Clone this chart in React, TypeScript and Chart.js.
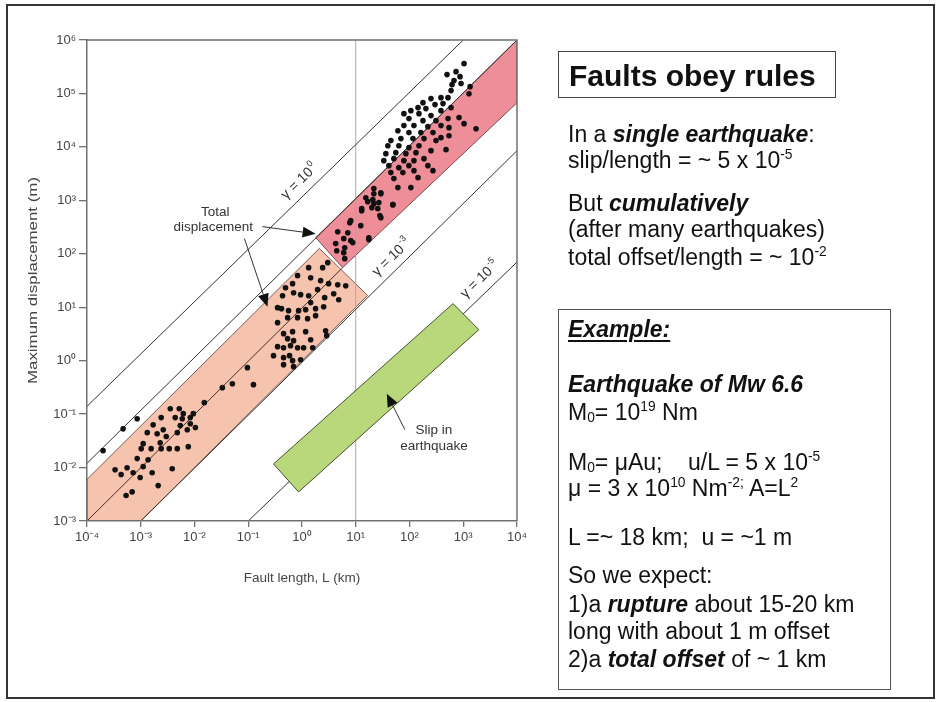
import React, { useEffect, useRef } from 'react';
import { Chart, registerables } from 'chart.js';

Chart.register(...registerables);

const FONT = '"Liberation Sans", Arial, Helvetica, sans-serif';

// ---- axis ticks ----
const lengthTicks = [1e-4, 1e-3, 1e-2, 1e-1, 1, 10, 100, 1e3, 1e4];
const lengthTickLabels = ['10⁻⁴', '10⁻³', '10⁻²', '10⁻¹', '10⁰', '10¹', '10²', '10³', '10⁴'];
const dispTicks = [1e-3, 1e-2, 1e-1, 1, 10, 100, 1e3, 1e4, 1e5, 1e6];
const dispTickLabels = ['10⁻³', '10⁻²', '10⁻¹', '10⁰', '10¹', '10²', '10³', '10⁴', '10⁵', '10⁶'];

// ---- fault data: length L (km), maximum displacement D (m) ----
const smallFaultsL = [
  3.33e-4, 4.31e-4, 5.57e-4, 7.21e-4, 5.34e-4, 6.91e-4, 8.57e-4, 9.75e-4, 1.11e-3, 1.11e-3,
  1.02e-3, 1.32e-3, 1.37e-3, 1.56e-3, 1.63e-3, 1.7e-3, 2.11e-3, 2.02e-3, 2.3e-3, 2.4e-3,
  2.62e-3, 2.4e-3, 2.98e-3, 3.39e-3, 3.85e-3, 3.54e-3, 4.78e-3, 4.38e-3, 5.2e-3, 4.78e-3,
  5.43e-3, 5.92e-3, 7.34e-3, 7.66e-3, 8.35e-3, 9.5e-3, 1.04e-2, 8.35e-3, 6.18e-3, 1.52e-2,
  3.3e-2, 5.07e-2, 0.125, 9.66e-2, 1.99e-4, 4.7e-4, 8.57e-4,
];
const smallFaultsD = [
  9.1e-3, 7.4e-3, 9.9e-3, 8.0e-3, 3.0e-3, 3.5e-3, 1.47e-2, 6.5e-3, 1.04e-2, 2.8e-2,
  2.26e-2, 4.5e-2, 1.4e-2, 2.26e-2, 8.0e-3, 6.3e-2, 4.6e-3, 4.3e-2, 2.9e-2, 2.26e-2,
  5.1e-2, 8.6e-2, 3.8e-2, 2.26e-2, 9.5e-3, 0.126, 2.26e-2, 8.6e-2, 0.126, 4.5e-2,
  6.1e-2, 8.2e-2, 5.1e-2, 2.46e-2, 8.6e-2, 0.102, 5.6e-2, 6.6e-2, 0.102, 0.164,
  0.313, 0.371, 0.356, 0.74, 2.07e-2, 5.3e-2, 8.2e-2,
];
const midFaultsL = [
  3.01, 2.42, 1.33, 0.827, 1.45, 2.22, 3.13, 4.62, 6.51, 0.668,
  0.494, 0.697, 0.942, 1.33, 1.95, 2.64, 3.89, 4.82, 0.435, 0.351,
  0.416, 0.562, 0.865, 1.17, 1.79, 2.53, 1.45, 0.539, 0.827, 1.27,
  1.79, 0.351, 0.454, 0.668, 1.17, 2.75, 2.88, 0.539, 0.697, 1.45,
  0.351, 0.454, 0.612, 0.827, 1.07, 1.58, 0.295, 0.454, 0.587, 0.668,
  0.942, 0.454, 0.697,
];
const midFaultsD = [
  68.2, 55.0, 55.0, 39.0, 35.7, 31.4, 27.6, 26.4, 25.3, 27.6,
  23.2, 18.7, 17.2, 16.4, 21.3, 15.1, 17.9, 13.8, 16.4, 9.81,
  9.4, 8.62, 8.62, 9.0, 9.4, 10.2, 12.2, 6.38, 6.38, 6.11,
  6.95, 5.14, 3.2, 3.49, 3.49, 3.64, 2.94, 2.58, 2.37, 2.47,
  1.83, 1.75, 1.91, 1.75, 1.75, 1.75, 1.24, 1.14, 1.24, 1.0,
  1.04, 0.842, 0.772,
];
const bandFaultsL = [4.24, 6.24, 5.97, 4.43, 8.07, 4.62, 7.73, 12.4, 17.5, 12.9, 16.7, 21.7, 29.3, 21.7, 25.7, 29.3, 49.0, 6.24];
const bandFaultsD = [155, 130, 105, 114, 176, 259, 382, 336, 184, 641, 945, 1330, 1330, 867, 699, 474, 830, 81.1];
const largeFaultsL = [
  1035, 734, 499, 871, 673, 618, 910, 1340, 593, 1280,
  385, 521, 251, 178, 298, 420, 144, 202, 385, 593,
  106, 78.7, 150, 251, 97.5, 178, 311, 521, 836, 1035,
  1730, 78.7, 121, 220, 385, 543, 60.8, 97.5, 163, 273,
  385, 45.0, 69.2, 116, 186, 311, 543, 39.5, 63.4, 97.5,
  150, 251, 478, 36.3, 55.7, 85.7, 132, 33.3, 51.2, 78.7,
  121, 186, 41.3, 63.4, 97.5, 220, 45.0, 75.3, 121, 273,
  51.2, 144, 60.8, 106, 21.7, 29.3, 15.4, 20.8, 26.9, 49.0,
  12.9, 19.9, 28.1, 8.07, 7.1, 17.5, 5.97, 8.79,
];
const largeFaultsD = [
  3.61e5, 2.56e5, 2.25e5, 2.06e5, 1.74e5, 1.46e5, 1.53e5, 1.34e5, 1.13e5, 9.9e4,
  8.35e4, 8.35e4, 8.0e4, 6.73e4, 6.18e4, 6.45e4, 5.42e4, 5.2e4, 4.77e4, 5.42e4,
  4.77e4, 4.19e4, 4.19e4, 3.85e4, 3.38e4, 3.1e4, 3.1e4, 3.38e4, 3.53e4, 2.72e4,
  2.19e4, 2.5e4, 2.5e4, 2.39e4, 2.5e4, 2.29e4, 2.01e4, 1.85e4, 1.85e4, 1.85e4,
  1.49e4, 1.31e4, 1.43e4, 1.43e4, 1.43e4, 1.31e4, 1.62e4, 1.05e4, 1.05e4, 9.68e3,
  1.05e4, 8.51e3, 8.87e3, 7.48e3, 7.8e3, 7.48e3, 7.8e3, 5.53e3, 6.03e3, 5.53e3,
  5.53e3, 6.03e3, 4.46e3, 4.09e3, 4.46e3, 4.46e3, 3.3e3, 3.3e3, 3.59e3, 3.59e3,
  2.55e3, 2.66e3, 1.73e3, 1.73e3, 1.66e3, 1.39e3, 1.12e3, 1.03e3, 906, 830,
  699, 730, 517, 417, 248, 200, 192, 162,
];

// ---- gamma (displacement/length) lines ----
const gamma0L = [1e-4, 1e3];
const gamma0D = [0.14, 1e6];
const gamma1L = [1e-4, 1e4];
const gamma1D = [0.012, 1e6];
const gamma2L = [1e-4, 5.7];
const gamma2D = [1e-3, 55];
const gamma3L = [1e-3, 1e4];
const gamma3D = [1e-3, 8.5e3];
const gamma5L = [0.1, 1e4];
const gamma5D = [1e-3, 70];
const refLineL = [10, 10];
const refLineD = [1e-3, 1e6];

// ---- shaded fields ----
const totalBandL = [1e-4, 2.1, 16.6, 1e-4];
const totalBandD = [6e-3, 126, 16.6, 1e-4];
const upperBandL = [1.8, 1e4, 1e4, 5.7];
const upperBandD = [200, 1e6, 6.7e4, 55];
const slipBoxL = [0.295, 646, 1950, 0.865];
const slipBoxD = [0.0117, 11.7, 3.8, 3.5e-3];

// ---- annotations ----
const noteTexts = ['Total', 'displacement', 'Slip in', 'earthquake'];
const noteL = [0.0244, 0.0224, 285, 285];
const noteD = [588, 308, 0.049, 0.0246];
const arrowFromL = [0.184, 0.0849, 82];
const arrowFromD = [322, 192, 0.0511];
const arrowToL = [1.79, 0.228, 37.8];
const arrowToD = [236, 10.2, 0.241];
const gammaLabelExp = ['0', '-3', '-5'];
const gammaLabelL = [0.865, 45, 1972];
const gammaLabelD = [2335, 88.3, 34.2];

const pts = (L: number[], D: number[]) => L.map((v, i) => ({ x: v, y: D[i] }));

const decor = {
  id: 'decor',
  beforeDatasetsDraw(chart: any) {
    const { ctx, chartArea: a, scales } = chart;
    const X = scales.x, Y = scales.y;
    const poly = (L: number[], D: number[], fill: string, stroke: string) => {
      ctx.beginPath();
      L.forEach((v, i) => {
        const px = X.getPixelForValue(v), py = Y.getPixelForValue(D[i]);
        if (i === 0) ctx.moveTo(px, py); else ctx.lineTo(px, py);
      });
      ctx.closePath();
      ctx.fillStyle = fill;
      ctx.fill();
      ctx.strokeStyle = stroke;
      ctx.lineWidth = 1;
      ctx.stroke();
    };
    ctx.save();
    ctx.beginPath();
    ctx.rect(a.left, a.top, a.right - a.left, a.bottom - a.top);
    ctx.clip();
    poly(totalBandL, totalBandD, '#F6C3AF', '#7d5a4e');
    poly(upperBandL, upperBandD, '#EE8E98', '#7a4c4e');
    ctx.restore();
  },
  afterDatasetsDraw(chart: any) {
    const { ctx, chartArea: a, scales } = chart;
    const X = scales.x, Y = scales.y;
    ctx.save();
    // green slip box
    ctx.beginPath();
    slipBoxL.forEach((v, i) => {
      const px = X.getPixelForValue(v), py = Y.getPixelForValue(slipBoxD[i]);
      if (i === 0) ctx.moveTo(px, py); else ctx.lineTo(px, py);
    });
    ctx.closePath();
    ctx.fillStyle = '#B9D77B';
    ctx.fill();
    ctx.strokeStyle = '#44502c';
    ctx.lineWidth = 1;
    ctx.stroke();

    // arrows
    ctx.strokeStyle = '#333';
    ctx.fillStyle = '#111';
    ctx.lineWidth = 1;
    arrowFromL.forEach((v, i) => {
      const x0 = X.getPixelForValue(v), y0 = Y.getPixelForValue(arrowFromD[i]);
      const x1 = X.getPixelForValue(arrowToL[i]), y1 = Y.getPixelForValue(arrowToD[i]);
      const ang = Math.atan2(y1 - y0, x1 - x0);
      const len = 13, hw = 5.5;
      const bx = x1 - len * Math.cos(ang), by = y1 - len * Math.sin(ang);
      ctx.beginPath();
      ctx.moveTo(x0, y0);
      ctx.lineTo(bx, by);
      ctx.stroke();
      ctx.beginPath();
      ctx.moveTo(x1, y1);
      ctx.lineTo(bx - hw * Math.sin(ang), by + hw * Math.cos(ang));
      ctx.lineTo(bx + hw * Math.sin(ang), by - hw * Math.cos(ang));
      ctx.closePath();
      ctx.fill();
    });

    // notes
    ctx.fillStyle = '#333';
    ctx.font = `13.5px ${FONT}`;
    ctx.textAlign = 'center';
    ctx.textBaseline = 'middle';
    noteTexts.forEach((t, i) => {
      ctx.fillText(t, X.getPixelForValue(noteL[i]), Y.getPixelForValue(noteD[i]));
    });

    // gamma labels
    gammaLabelExp.forEach((e, i) => {
      const px = X.getPixelForValue(gammaLabelL[i]), py = Y.getPixelForValue(gammaLabelD[i]);
      ctx.save();
      ctx.translate(px, py);
      ctx.rotate((-44 * Math.PI) / 180);
      ctx.textAlign = 'left';
      ctx.textBaseline = 'alphabetic';
      ctx.font = `14px ${FONT}`;
      const main = 'γ = 10';
      const w1 = ctx.measureText(main).width;
      ctx.font = `9px ${FONT}`;
      const w2 = ctx.measureText(e).width;
      const sx = -(w1 + w2 + 1) / 2;
      ctx.font = `14px ${FONT}`;
      ctx.fillText(main, sx, 5);
      ctx.font = `9px ${FONT}`;
      ctx.fillText(e, sx + w1 + 1, -2);
      ctx.restore();
    });

    // top & right frame
    ctx.strokeStyle = '#707070';
    ctx.lineWidth = 1.5;
    ctx.beginPath();
    ctx.moveTo(a.left, a.top);
    ctx.lineTo(a.right, a.top);
    ctx.lineTo(a.right, a.bottom);
    ctx.stroke();

    // y-axis title (stretched like the scanned figure)
    ctx.save();
    ctx.translate(a.left - 54, (a.top + a.bottom) / 2);
    ctx.rotate(-Math.PI / 2);
    ctx.font = `13px ${FONT}`;
    const title = 'Maximum displacement (m)';
    const tw = ctx.measureText(title).width;
    ctx.scale(207 / tw, 1);
    ctx.fillStyle = '#444';
    ctx.textAlign = 'center';
    ctx.textBaseline = 'middle';
    ctx.fillText(title, 0, 0);
    ctx.restore();
    ctx.restore();
  },
};

function FaultChart() {
  const ref = useRef<HTMLCanvasElement | null>(null);
  useEffect(() => {
    if (!ref.current) return;
    const allL = [...smallFaultsL, ...midFaultsL, ...bandFaultsL, ...largeFaultsL];
    const allD = [...smallFaultsD, ...midFaultsD, ...bandFaultsD, ...largeFaultsD];
    const lineDs = (L: number[], D: number[], color = '#333', width = 1) => ({
      data: pts(L, D),
      showLine: true,
      borderColor: color,
      borderWidth: width,
      pointRadius: 0,
      pointHoverRadius: 0,
      fill: false,
    });
    const tickFont = { family: FONT, size: 13 };
    const chart = new Chart(ref.current, {
      type: 'scatter',
      data: {
        datasets: [
          {
            data: pts(allL, allD),
            pointRadius: 2.8,
            pointBackgroundColor: '#111',
            pointBorderColor: '#111',
            pointBorderWidth: 0,
            showLine: false,
          } as any,
          lineDs(gamma0L, gamma0D),
          lineDs(gamma1L, gamma1D),
          lineDs(gamma2L, gamma2D, '#4a2e28'),
          lineDs(gamma3L, gamma3D),
          lineDs(gamma5L, gamma5D),
          lineDs(refLineL, refLineD, '#a8a8a8', 1),
        ],
      },
      options: {
        responsive: false,
        animation: false,
        devicePixelRatio: 1,
        layout: { padding: { left: 0, right: 423, top: 40, bottom: 112 } },
        plugins: { legend: { display: false }, tooltip: { enabled: false } },
        scales: {
          x: {
            type: 'logarithmic',
            min: 1e-4,
            max: 1e4,
            afterBuildTicks: (s: any) => {
              s.ticks = lengthTicks.map((v) => ({ value: v }));
            },
            afterFit: (s: any) => {
              s.height = 69;
            },
            ticks: {
              autoSkip: false,
              maxRotation: 0,
              padding: 3,
              color: '#444',
              font: tickFont,
              callback: (_v: any, i: number) => lengthTickLabels[i],
            },
            grid: { drawOnChartArea: false, tickLength: 6, color: '#707070', lineWidth: 1.3 },
            border: { display: true, color: '#707070', width: 1.5, z: 1 },
            title: {
              display: true,
              text: 'Fault length, L (km)',
              color: '#444',
              font: { family: FONT, size: 13.5 },
            },
          },
          y: {
            type: 'logarithmic',
            min: 1e-3,
            max: 1e6,
            afterBuildTicks: (s: any) => {
              s.ticks = dispTicks.map((v) => ({ value: v }));
            },
            afterFit: (s: any) => {
              s.width = 87;
            },
            ticks: {
              autoSkip: false,
              padding: 3,
              color: '#444',
              font: tickFont,
              callback: (_v: any, i: number) => dispTickLabels[i],
            },
            grid: { drawOnChartArea: false, tickLength: 8, color: '#707070', lineWidth: 1.3 },
            border: { display: true, color: '#707070', width: 1.5, z: 1 },
          },
        },
      } as any,
      plugins: [decor as any],
    });
    return () => chart.destroy();
  }, []);
  return (
    <canvas
      ref={ref}
      width={940}
      height={702}
      style={{ position: 'absolute', left: 0, top: 0, width: 940, height: 702 }}
    />
  );
}

const Sup = ({ children }: { children: React.ReactNode }) => (
  <span style={{ fontSize: '0.6em', position: 'relative', top: '-0.62em', lineHeight: 0 }}>{children}</span>
);
const Sub = ({ children }: { children: React.ReactNode }) => (
  <span style={{ fontSize: '0.6em', position: 'relative', top: '0.2em', lineHeight: 0 }}>{children}</span>
);
const BI = ({ children }: { children: React.ReactNode }) => (
  <b>
    <i>{children}</i>
  </b>
);

const Line = ({ x, base, size = 23, children, style }: any) => (
  <div
    style={{
      position: 'absolute',
      left: x,
      top: base - 0.8465 * size,
      fontSize: size,
      lineHeight: `${size}px`,
      whiteSpace: 'pre',
      fontFamily: FONT,
      color: '#111',
      ...style,
    }}
  >
    {children}
  </div>
);

export default function App() {
  return (
    <div style={{ position: 'absolute', left: 0, top: 0, width: 940, height: 702, background: '#fff', overflow: 'hidden' }}>
      <FaultChart />
      <div
        style={{
          position: 'absolute',
          left: 6,
          top: 4,
          width: 929,
          height: 695,
          border: '2.5px solid #333',
          boxSizing: 'border-box',
          pointerEvents: 'none',
        }}
      />
      <div
        style={{
          position: 'absolute',
          left: 558,
          top: 51,
          width: 278,
          height: 47,
          border: '1.5px solid #444',
          boxSizing: 'border-box',
        }}
      />
      <Line x={569} base={86} size={30} style={{ fontWeight: 'bold' }}>
        Faults obey rules
      </Line>
      <Line x={568} base={142}>
        In a <BI>single earthquake</BI>:
      </Line>
      <Line x={568} base={168}>
        slip/length = ~ 5 x 10<Sup>-5</Sup>
      </Line>
      <Line x={568} base={211}>
        But <BI>cumulatively</BI>
      </Line>
      <Line x={568} base={237}>(after many earthquakes)</Line>
      <Line x={568} base={265}>
        total offset/length = ~ 10<Sup>-2</Sup>
      </Line>

      <div
        style={{
          position: 'absolute',
          left: 558,
          top: 309,
          width: 333,
          height: 381,
          border: '1.5px solid #555',
          boxSizing: 'border-box',
        }}
      />
      <Line x={568} base={337}>
        <span style={{ textDecoration: 'underline', textDecorationThickness: '2px', textUnderlineOffset: '3px' }}>
          <BI>Example:</BI>
        </span>
      </Line>
      <Line x={568} base={392}>
        <BI>Earthquake of Mw 6.6</BI>
      </Line>
      <Line x={568} base={420}>
        M<Sub>0</Sub>= 10<Sup>19</Sup> Nm
      </Line>
      <Line x={568} base={470}>
        M<Sub>0</Sub>= μAu;    u/L = 5 x 10<Sup>-5</Sup>
      </Line>
      <Line x={568} base={496}>
        μ = 3 x 10<Sup>10</Sup> Nm<Sup>-2;</Sup> A=L<Sup>2</Sup>
      </Line>
      <Line x={568} base={545}>L =~ 18 km;  u = ~1 m</Line>
      <Line x={568} base={583}>So we expect:</Line>
      <Line x={568} base={612}>
        1)a <BI>rupture</BI> about 15-20 km
      </Line>
      <Line x={568} base={639}>long with about 1 m offset</Line>
      <Line x={568} base={667}>
        2)a <BI>total offset</BI> of ~ 1 km
      </Line>
    </div>
  );
}
